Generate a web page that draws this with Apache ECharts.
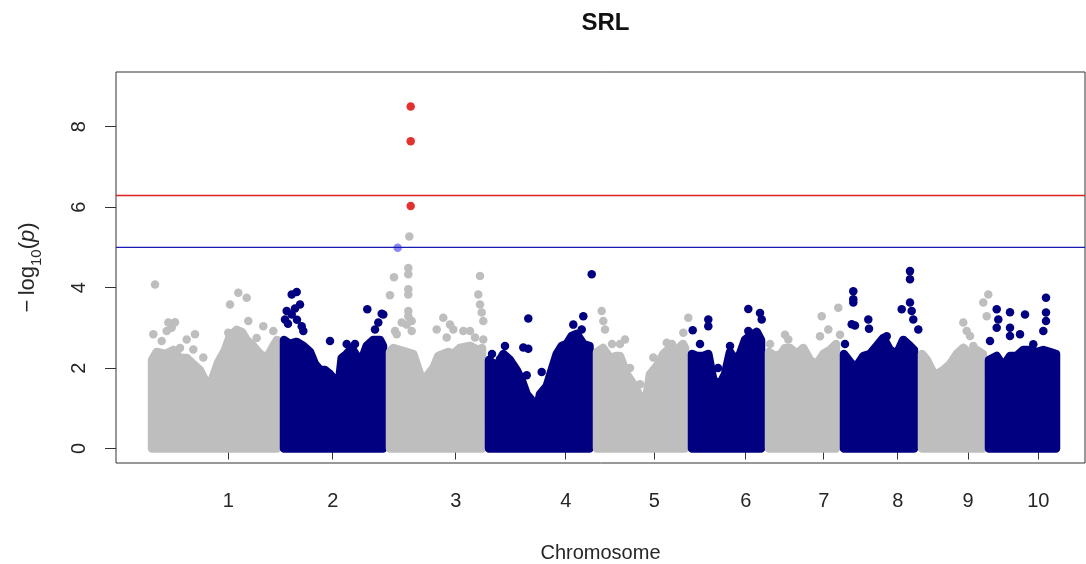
<!DOCTYPE html>
<html><head><meta charset="utf-8">
<script src="https://cdn.jsdelivr.net/npm/echarts@6/dist/echarts.min.js"></script>
<style>html,body{margin:0;padding:0;background:#fff}#c{width:1086px;height:564px}</style>
</head><body><div id="c"></div>
<script>
// ---- data (x = cumulative genome position, arbitrary units; y = -log10(p)) ----
const chromNames = ['1','2','3','4','5','6','7','8','9','10'];
const chromTicks = [228.3, 332.7, 455.7, 565.7, 654.3, 745.7, 823.7, 897.7, 968, 1038.3];
const yTicks = [0, 2, 4, 6, 8];
const suggestiveLine = 5;
const genomeWideLine = 6.29;

// upper envelope of the dense SNP cloud per chromosome
const env1 = [[152,2.2],[156.7,2.4],[165,2.35],[173.3,2.45],[180,2.25],[186.7,2.25],[193.3,2.1],[200,1.95],[205,1.7],[208.3,1.2],[210,1.6],[213.3,1.8],[218.3,2.15],[225,2.45],[230,2.8],[236.7,2.95],[241.7,2.9],[246.7,2.7],[253.3,2.55],[260,2.35],[266.7,2.25],[273.3,2.55],[277,2.7]];
const env2 = [[284,2.7],[290,2.6],[296.7,2.65],[303.3,2.55],[310,2.4],[315,2.1],[320,1.95],[325,1.95],[330,1.85],[335,1.7],[338.3,1.5],[341.7,2.25],[346.7,2.35],[351.7,2.5],[356.7,2.3],[361.7,2.2],[366.7,2.55],[373.3,2.7],[380,2.7],[383,2.55]];
const env3 = [[390,2.4],[393.3,2.5],[400,2.45],[406.7,2.4],[413.3,2.35],[420,1.85],[424,1.4],[428.3,1.85],[433.3,2.0],[438.3,2.3],[443.3,2.35],[448.3,2.4],[453.3,2.35],[460,2.5],[470,2.55],[478.3,2.45],[482,2.5]];
const env4 = [[489,2.2],[496.7,2.05],[503.3,2.35],[510,2.2],[516.7,1.95],[521.7,1.7],[526.7,1.35],[531.7,1.2],[536,0.85],[540,1.35],[546.7,1.55],[551.7,1.95],[556.7,2.35],[561.7,2.55],[566.7,2.6],[571.7,2.8],[576.7,2.85],[583.3,2.6],[589.5,2.55]];
const env5 = [[597,2.4],[603,2.5],[610,2.25],[616,2.3],[620,2.3],[626.7,1.85],[633.3,1.6],[640,1.3],[645,1.05],[650,1.85],[656.7,2.05],[663.3,2.35],[670,2.5],[676.7,2.45],[683,2.6],[685,2.5]];
const env6 = [[692,2.35],[696.7,2.3],[703.3,2.3],[708.3,2.35],[713.3,1.7],[720,1.6],[725,1.85],[730,2.4],[735,2.2],[740,2.35],[745,2.7],[750,2.8],[756.7,2.9],[761,2.7]];
const env7 = [[769,2.4],[775,2.3],[781,2.35],[785,2.5],[790,2.5],[796.7,2.35],[803.3,2.5],[810,2.2],[816.7,2.1],[823.3,2.35],[830,2.45],[836,2.6]];
const env8 = [[844,2.35],[851.7,2.1],[856.7,2.05],[863.3,2.3],[870,2.35],[876.7,2.55],[883.3,2.75],[890,2.45],[896.7,2.35],[903.3,2.7],[910,2.55],[914,2.45]];
const env9 = [[922,2.35],[927,2.2],[933,1.9],[936.7,1.85],[943.3,1.95],[950,2.1],[956.7,2.35],[963.3,2.5],[970,2.35],[976.7,2.45],[983,2.35]];
const env10 = [[989,2.2],[996.7,2.3],[1003.3,2.05],[1010,2.3],[1016.7,2.3],[1023.3,2.45],[1030,2.45],[1036.7,2.4],[1043.3,2.45],[1050,2.4],[1056,2.35]];

// isolated SNPs above the cloud
const dots1 = [[155,4.08],[153.3,2.84],[161.7,2.67],[168.3,3.13],[171.7,3.0],[175,3.14],[166.7,2.92],[186.7,2.71],[195,2.84],[193.3,2.46],[180,2.5],[203.3,2.26],[238.3,3.87],[246.7,3.75],[230,3.58],[248.3,3.17],[263.3,3.04],[256.7,2.75],[273.3,2.92],[228.3,2.88]];
const dots2 = [[291.7,3.83],[296.7,3.89],[286.7,3.42],[295,3.48],[300,3.58],[285,3.21],[291.7,3.33],[301.7,3.04],[303.3,2.92],[330,2.67],[367.3,3.46],[383.3,3.33],[378.3,3.13],[375,2.96],[381.7,3.35],[346.7,2.6],[355,2.6],[288,3.1],[297,3.2]];
const dots3 = [[409.3,5.27],[408.3,4.49],[408.3,4.33],[394,4.26],[408.3,3.96],[408.3,3.83],[390,3.81],[408.3,3.42],[408.3,3.29],[411.7,3.17],[406.7,3.08],[395,2.92],[401.7,3.13],[411.7,2.92],[396.7,2.84],[443.3,3.25],[450,3.08],[453.3,2.96],[436.7,2.96],[446.7,2.76],[480,4.29],[478.3,3.83],[480,3.58],[481.7,3.38],[483.3,3.17],[463.3,2.92],[470,2.92],[475,2.76],[483.3,2.71]];
const dots4 = [[591.7,4.33],[528.3,3.23],[523.3,2.51],[528.3,2.48],[526.7,1.82],[541.7,1.9],[505,2.55],[583.3,3.29],[581.7,2.96],[573.3,3.08],[575,2.71],[500,2.22],[492,2.35]];
const dots5 = [[601.7,3.42],[603.3,3.17],[605,2.96],[625,2.71],[620,2.6],[653.3,2.26],[666.7,2.63],[672,2.6],[688.3,3.25],[683.3,2.88],[640,1.6],[630,2.0],[612,2.6]];
const dots6 = [[748.3,3.47],[760,3.37],[761.7,3.21],[708.3,3.21],[708.3,3.04],[692.7,2.94],[730,2.55],[748.3,2.92],[700,2.6],[718,2.0]];
const dots7 = [[785,2.83],[788.3,2.71],[821.7,3.29],[838.3,3.5],[820,2.79],[840,2.83],[828.3,2.96],[770,2.6]];
const dots8 = [[853.3,3.91],[853.3,3.71],[853.3,3.63],[851.7,3.09],[855,3.06],[868.3,3.21],[869,2.98],[910,4.41],[910,4.21],[901.7,3.46],[910,3.63],[911.7,3.42],[913.3,3.21],[918.3,2.96],[886.7,2.79],[845,2.6]];
const dots9 = [[988.3,3.83],[983.3,3.63],[986.7,3.29],[963.3,3.13],[970,2.8],[973.3,2.55],[966.7,2.92]];
const dots10 = [[1046,3.75],[1046,3.38],[1046,3.17],[1043.3,2.92],[996.7,3.46],[998.3,3.21],[996.7,3.0],[1010,3.39],[1010,3.0],[1010,2.8],[1025,3.33],[1020,2.84],[1033.3,2.59],[990,2.67]];

const sigPoints = [[410.7,8.5],[410.7,7.64],[410.7,6.03]];
const nearPoints = [[397.7,4.99]];

// ---- chart ----
const X_MIN = 116, X_MAX = 1085;
const envs = [env1,env2,env3,env4,env5,env6,env7,env8,env9,env10];
const dots = [dots1,dots2,dots3,dots4,dots5,dots6,dots7,dots8,dots9,dots10];
const chromColors = ['#bebebe', '#000080'];
const FONT = '"Liberation Sans", Arial, sans-serif';
const DOT = 8.5;

const series = [];
envs.forEach((env, i) => {
  const col = chromColors[i % 2];
  const x0 = env[0][0], x1 = env[env.length - 1][0];
  series.push({
    type: 'line', data: [[x0, 0]].concat(env, [[x1, 0], [x0, 0]]),
    showSymbol: false, silent: true, animation: false,
    lineStyle: { color: col, width: DOT, join: 'round', cap: 'round', opacity: 1 },
    areaStyle: { color: col, opacity: 1 }, itemStyle: { color: col }
  });
  series.push({
    type: 'scatter', data: dots[i], symbol: 'circle', symbolSize: DOT,
    itemStyle: { color: col, opacity: 1 }, silent: true, animation: false
  });
});
series.push({
  type: 'scatter', data: nearPoints, symbolSize: DOT, itemStyle: { color: '#8a8af0', opacity: 1 },
  silent: true, animation: false
});
series.push({
  type: 'scatter', data: sigPoints, symbolSize: DOT, itemStyle: { color: '#e2312f', opacity: 1 },
  silent: true, animation: false
});
[[genomeWideLine, '#d8201c'], [suggestiveLine, '#1a1ab4']].forEach(([v, c]) => {
  series.push({
    type: 'line', data: [[X_MIN, v], [X_MAX, v]], showSymbol: false, silent: true, animation: false,
    color: c, lineStyle: { color: c, width: 1.3, opacity: 1 }, itemStyle: { color: c }, z: 5
  });
});

const chart = echarts.init(document.getElementById('c'), null, { renderer: 'canvas' });
chart.setOption({
  backgroundColor: '#ffffff',
  animation: false,
  title: {
    text: 'SRL', left: 600.5, top: 6, textAlign: 'center',
    textStyle: { fontFamily: FONT, fontSize: 24, fontWeight: 'bold', color: '#111' }
  },
  grid: { left: 116, right: 1, top: 72, bottom: 101, show: true, borderColor: '#333', borderWidth: 1,
          backgroundColor: 'transparent', containLabel: false, outerBoundsMode: 'none' },
  xAxis: {
    type: 'value', min: X_MIN, max: X_MAX,
    axisLine: { show: false }, splitLine: { show: false },
    axisTick: { show: true, customValues: chromTicks, length: 11, lineStyle: { color: '#333' } },
    axisLabel: {
      customValues: chromTicks, margin: 28, fontSize: 20, fontFamily: FONT, color: '#262626',
      formatter: v => { const k = chromTicks.findIndex(t => Math.abs(t - v) < 0.01); return k >= 0 ? chromNames[k] : ''; }
    },
    name: 'Chromosome', nameLocation: 'middle', nameGap: 80,
    nameTextStyle: { fontSize: 20, fontFamily: FONT, color: '#262626' }
  },
  yAxis: {
    type: 'value', min: -0.36, max: 9.36,
    axisLine: { show: false }, splitLine: { show: false },
    axisTick: { show: true, customValues: yTicks, length: 11, lineStyle: { color: '#333' } },
    axisLabel: { customValues: yTicks, rotate: 90, margin: 27, fontSize: 20, fontFamily: FONT, color: '#262626' },
    name: '{a|−\u2009log}{s|10}{a|(}{i|p}{a|)}', nameLocation: 'middle', nameGap: 72, nameRotate: 90,
    nameTextStyle: {
      fontFamily: FONT, color: '#262626',
      rich: {
        a: { fontSize: 22, fontFamily: FONT, color: '#262626', lineHeight: 32 },
        s: { fontSize: 15, fontFamily: FONT, color: '#262626', verticalAlign: 'bottom', lineHeight: 32 },
        i: { fontSize: 22, fontFamily: FONT, fontStyle: 'italic', color: '#262626', lineHeight: 32 }
      }
    }
  },
  series: series
});
</script>
</body></html>
